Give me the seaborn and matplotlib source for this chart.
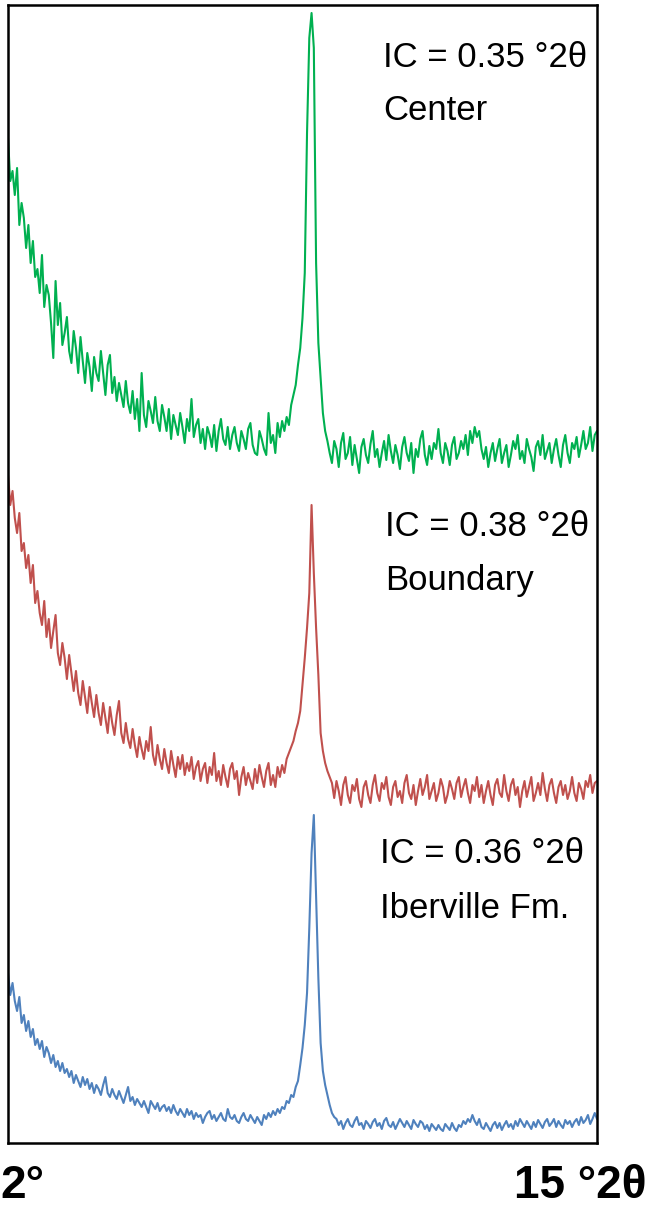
import numpy as np
import pandas as pd
import seaborn as sns
from matplotlib import pyplot as plt

# XRD scan 2-15 deg 2theta, 0.05 deg step
two_theta = np.round(np.linspace(2.0, 15.0, 261), 2)

# intensities (a.u., already stacked)
center = [
    1005, 962, 972, 948, 975, 918, 940, 925, 895, 918,
    880, 902, 866, 874, 850, 888, 836, 858, 848, 820,
    785, 862, 818, 840, 798, 810, 826, 792, 780, 812,
    795, 770, 806, 782, 760, 790, 776, 752, 786, 770,
    762, 792, 770, 748, 778, 788, 750, 766, 742, 760,
    748, 736, 762, 740, 730, 752, 724, 744, 712, 770,
    728, 716, 742, 732, 720, 746, 722, 712, 738, 726,
    712, 734, 704, 728, 718, 708, 730, 716, 700, 724,
    712, 744, 706, 718, 724, 700, 714, 694, 716, 708,
    696, 718, 692, 712, 724, 704, 698, 716, 694, 708,
    716, 700, 692, 712, 704, 694, 714, 720, 698, 690,
    688, 712, 704, 694, 688, 730, 700, 708, 690, 720,
    706, 722, 712, 726, 718, 738, 748, 758, 778, 795,
    825, 870, 1010, 1105, 1130, 1095, 880, 800, 765, 730,
    712, 702, 690,
    680, 702, 694, 676, 700, 710, 684,
    690, 706, 678, 698, 684, 670, 696, 704, 688, 680,
    699, 712, 686, 694, 676, 690, 702, 683, 708, 692,
    680, 698, 688, 674, 696, 706, 690, 682, 700, 670,
    694, 686, 704, 712, 688, 678, 697, 684, 700, 694,
    714, 690, 680, 700, 692, 678, 698, 706, 684, 690,
    702, 694, 708, 688, 712, 700, 716, 706, 712, 694,
    684, 696, 676, 690, 700, 682, 694, 704, 680, 690,
    698, 676, 688, 702, 694, 708, 684, 692, 680, 704,
    694, 686, 672, 696, 702, 688, 708, 684, 692, 700,
    680, 694, 704, 688, 676, 698, 708, 690, 680, 700,
    694, 706, 686, 698, 712, 694, 700, 716, 692, 708,
    712,
]

boundary = [
    668, 638, 652, 625, 610, 630, 592, 600, 575, 588,
    560, 578, 540, 552, 530, 518, 542, 506, 524, 495,
    512, 528, 490, 478, 500, 485, 464, 488, 470, 452,
    472, 450, 438, 462, 446, 430, 456, 440, 426, 448,
    430, 418, 440, 425, 410, 436, 420, 408, 428, 442,
    410, 400, 420, 404, 395, 414, 398, 386, 406, 394,
    384, 402, 392, 416, 388, 378, 398, 384, 374, 394,
    380, 370, 392, 378, 366, 386, 374, 388, 368, 380,
    372, 386, 364, 376, 382, 362, 374, 380, 360, 376,
    368, 390, 362, 372, 358, 378, 366, 356, 374, 380,
    364, 372, 348, 366, 376, 358, 370, 362, 354, 374,
    360, 378, 366, 356, 372, 380, 358, 368, 356, 376,
    366, 378, 370, 384, 390, 396, 402, 412, 420, 432,
    458, 485, 515, 550, 638, 570, 515, 468, 410, 392,
    380, 372, 366, 360,
    345, 362, 352, 338, 358, 366,
    348, 340, 358, 352, 364, 344, 336, 356, 362, 348,
    340, 358, 368, 350, 342, 360, 354, 366, 346, 338,
    356, 362, 346, 352, 340, 360, 368, 350, 344, 358,
    338, 352, 364, 348, 356, 368, 344, 352, 360, 342,
    350, 364, 356, 340, 348, 362, 354, 344, 360, 366,
    346, 356, 364, 350, 340, 358, 352, 366, 346, 358,
    340, 352, 362, 348, 338, 358, 364, 350, 346, 368,
    352, 342, 358, 364, 348, 356, 336, 352, 362, 346,
    356, 366, 342, 350, 360, 348, 370, 354, 342, 358,
    364, 350, 340, 356, 362, 348, 358, 344, 352, 366,
    350, 342, 360, 354, 344, 362, 356, 368, 350, 360,
    362,
]

iberville = [
    170, 148, 160, 142, 132, 146, 120, 128, 112, 122,
    106, 114, 98, 104, 94, 102, 86, 96, 90, 80,
    88, 76, 82, 72, 80, 70, 74, 66, 72, 60,
    68, 62, 56, 66, 58, 64, 54, 60, 50, 58,
    54, 48, 58, 66, 50, 46, 54, 48, 44, 52,
    46, 40, 48, 56, 42, 46, 38, 44, 40, 36,
    42, 36, 30, 42, 38, 34, 40, 32, 36, 38,
    32, 36, 30, 38, 32, 28, 34, 30, 26, 34,
    28, 32, 24, 30, 26, 28, 20, 26, 30, 32,
    24, 28, 22, 26, 30, 24, 22, 34, 26, 24,
    28, 22, 20, 26, 30, 24, 22, 28, 24, 20,
    26, 22, 18, 28, 24, 30, 26, 32, 28, 34,
    30, 36, 34, 42, 40, 48, 46, 56, 62, 78,
    95, 118, 150, 215, 290, 328, 245, 165, 100, 72,
    58, 48, 38, 30, 26,
    24, 18, 22, 14, 20,
    24, 18, 16, 22, 26, 18, 20, 14, 22, 19,
    15, 21, 24, 17, 20, 14, 22, 25, 18, 16,
    21, 14, 19, 24, 20, 16, 22, 18, 14, 23,
    19, 16, 22, 20, 14, 18, 12, 19, 16, 13,
    18, 14, 12, 19, 16, 13, 20, 15, 12, 18,
    16, 22, 19, 24, 21, 28, 22, 18, 24, 16,
    14, 20, 16, 12, 18, 21, 15, 20, 13, 18,
    22, 16, 19, 14, 22, 17, 24, 20, 16, 22,
    18, 14, 21, 16, 23, 19, 15, 21, 24, 17,
    20, 24, 16, 22, 18, 15, 23, 19, 22, 16,
    21, 24, 18, 26, 20, 23, 28, 19, 24, 30,
    24,
]

samples = ["Center", "Boundary", "Iberville Fm."]
ic_values = ["0.35", "0.38", "0.36"]
colors = ["#00B050", "#C0504D", "#4F81BD"]

df = pd.concat([
    pd.DataFrame({"two_theta": two_theta, "intensity": vals, "sample": name})
    for name, vals in zip(samples, [center, boundary, iberville])
])

sns.set_style("white")
plt.rcParams["font.family"] = ["Liberation Sans", "DejaVu Sans"]
plt.rcParams["text.color"] = "black"

W, H = 650, 1211
fig = plt.figure(figsize=(W / 100, H / 100), dpi=100)
ax = fig.add_axes([8 / W, 1 - 1143 / H, 589 / W, 1138 / H])

sns.lineplot(data=df, x="two_theta", y="intensity", hue="sample",
             palette=dict(zip(samples, colors)), estimator=None, sort=False,
             linewidth=1.5, legend=False, ax=ax)

ax.set_xlim(2, 15)
ax.set_ylim(0, 1138)
ax.set_xticks([])
ax.set_yticks([])
ax.set_xlabel("")
ax.set_ylabel("")
for s in ax.spines.values():
    s.set_visible(True)
    s.set_color("black")
    s.set_linewidth(1.8)

# label positions (pixels from top-left): IC line baseline, name baseline
label_pos = [(383, 67, 120), (385, 536, 590), (380, 863, 918)]
for (lx, y1, y2), ic, name in zip(label_pos, ic_values, samples):
    fig.text(lx / W, 1 - y1 / H, f"IC = {ic} °2θ", fontsize=25, va="baseline")
    fig.text(lx / W, 1 - y2 / H, name, fontsize=25, va="baseline")

fig.text(0 / W, 1 - 1198 / H, "2°", fontsize=33, fontweight="bold", va="baseline")
fig.text(646 / W, 1 - 1198 / H, "15 °2θ", fontsize=33, fontweight="bold",
         va="baseline", ha="right")

fig.savefig("out.png", dpi=100)
